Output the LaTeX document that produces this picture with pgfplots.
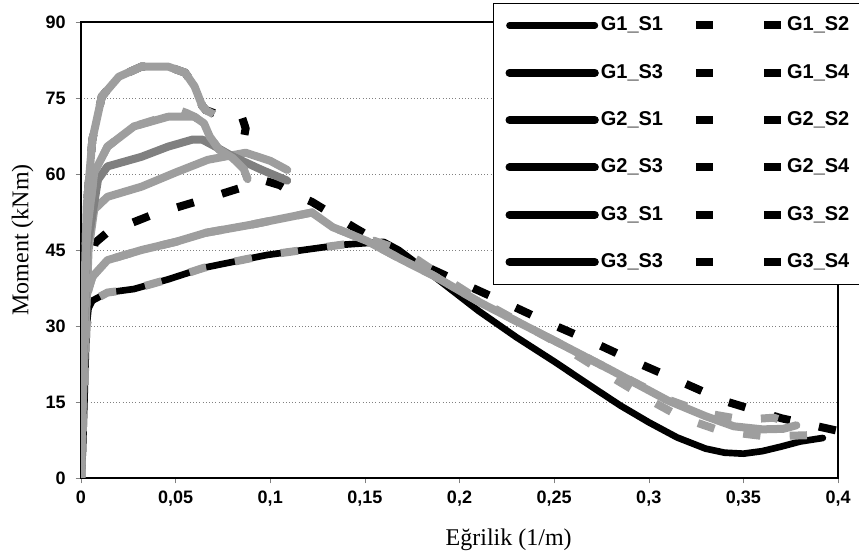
\documentclass[border=0pt]{standalone}
\usepackage{pgfplots}
\pgfplotsset{compat=1.18}
\usepackage{fontspec}
\setmainfont{Liberation Sans}
\newfontfamily\tnr{Liberation Serif}
\definecolor{lg}{RGB}{158,158,158}
\definecolor{dg}{RGB}{128,128,128}
\pgfplotsset{
  sol/.style={line width=#1, line join=round, line cap=round, legend image post style={black, line cap=round}},
  dsh/.style={line width=6pt, dash pattern=on 13pt off 22pt, legend image post style={black, dash pattern=on 12.75pt off 38.5pt}},
}
\begin{document}
\begin{tikzpicture}
\path[use as bounding box] (-60.75pt,-60.75pt) rectangle (583.5pt,358.5pt);
\begin{axis}[
  at={(0pt,0pt)}, anchor=south west,
  scale only axis, width=567.75pt, height=342pt,
  xmin=0, xmax=0.4, ymin=0, ymax=90,
  xtick={0,0.05,0.1,0.15,0.2,0.25,0.3,0.35,0.4},
  xticklabels={0,{0,05},{0,1},{0,15},{0,2},{0,25},{0,3},{0,35},{0,4}},
  ytick={0,15,30,45,60,75,90},
  tick pos=left, tick align=outside, major tick length=4pt,
  ymajorgrids, major grid style={dotted, gray, line width=0.7pt},
  axis line style={line width=0.9pt},
  /pgf/number format/assume math mode=true,
  ticklabel style={font=\bfseries\fontsize{13.5}{14}\selectfont},
  yticklabel style={xshift=-4pt},
  xticklabel style={yshift=-2pt},
  xlabel={Eğrilik (1/m)}, ylabel={Moment (kNm)},
  xlabel style={at={(axis description cs:0.565,-0.136)}, anchor=center, font=\tnr\fontsize{18}{18}\selectfont},
  ylabel style={at={(axis description cs:-0.077,0.522)}, anchor=center, font=\tnr\fontsize{18}{18}\selectfont},
  legend columns=2,
  legend image code/.code={\draw[#1] (0pt,0pt) -- (64pt,0pt);},
  legend style={at={(rel axis cs:0.5443,1.0417)}, anchor=north west, draw=black, line width=0.7pt,
    fill=white, inner xsep=9pt, inner ysep=8pt, row sep=18.5pt, column sep=0pt,
    font=\bfseries\fontsize{15}{15}\selectfont,
    nodes={inner sep=1.5pt, text height=11pt, text depth=3pt},
    /tikz/column 2/.style={column sep=20pt}},
  legend cell align=left,
]
% G1_S1 black solid
\addplot[black, sol=5pt] coordinates {(0,0) (0.001,5) (0.003,30) (0.004,33.5) (0.006,35) (0.014,36.6) (0.028,37.3) (0.046,39.2) (0.065,41.5) (0.098,44) (0.137,46) (0.16,46.6) (0.168,45) (0.19,38.8) (0.21,33) (0.23,27.8) (0.25,23) (0.27,18) (0.285,14.3) (0.3,11) (0.315,8) (0.33,5.8) (0.34,5) (0.35,4.8) (0.36,5.3) (0.37,6.2) (0.38,7.2) (0.392,7.9)};
\addlegendentry{G1\_S1}
% G1_S2 black dashed
\addplot[black, dsh] coordinates {(0,0) (0.003,40) (0.0074,46.4) (0.0137,48.4) (0.038,52) (0.065,55) (0.089,57.8) (0.097,58.7) (0.105,57.8) (0.114,55.8) (0.122,54.5) (0.145,49.3) (0.172,43.5) (0.2,38.7) (0.223,34.8) (0.246,30.8) (0.27,26.9) (0.293,22.9) (0.317,19) (0.34,15.2) (0.37,11.8) (0.4,9.3)};
\addlegendentry{G1\_S2}
% G1_S3 gray solid
\addplot[lg, sol=6pt] coordinates {(0,0) (0.001,20) (0.003,36) (0.006,39.7) (0.014,43) (0.032,45) (0.05,46.6) (0.066,48.4) (0.09,50) (0.11,51.5) (0.122,52.4) (0.133,49.5) (0.151,46.8) (0.17,43) (0.186,40) (0.211,34.6) (0.246,27.9) (0.28,21.3) (0.31,15.3) (0.33,12.2) (0.345,10.2) (0.36,9.6) (0.371,9.7) (0.378,10.4)};
\addlegendentry{G1\_S3}
% G1_S4 black dashed (mostly hidden)
\addplot[black, dsh] coordinates {(0,0) (0.001,25) (0.003,53.5) (0.006,66.8) (0.011,75.3) (0.02,79.2) (0.032,81.2) (0.046,81.2) (0.055,80) (0.06,77.3) (0.064,73.5) (0.066,72.6) (0.072,71.8) (0.08,71.7) (0.085,71.3) (0.087,69) (0.086,67)};
\addlegendentry{G1\_S4}
% G2_S1 gray solid
\addplot[lg, sol=6pt] coordinates {(0,0) (0.001,15) (0.004,45) (0.007,53) (0.014,55.5) (0.032,57.5) (0.05,60.3) (0.067,62.8) (0.087,64.2) (0.1,62.6) (0.109,60.8)};
\addlegendentry{G2\_S1}
% G2_S2 gray dashed
\addplot[lg, dsh] coordinates {(0,0) (0.003,30) (0.006,35) (0.014,36.6) (0.028,37.3) (0.046,39.2) (0.065,41.5) (0.098,44) (0.137,46) (0.155,46.8) (0.165,45.5) (0.178,43) (0.19,40) (0.211,35) (0.25,27) (0.28,20) (0.3,15.5) (0.317,12) (0.338,9.3) (0.362,8.2) (0.389,8.5)};
\addlegendentry{G2\_S2}
% G2_S3 darker gray solid
\addplot[dg, sol=6pt] coordinates {(0,0) (0.001,20) (0.003,45) (0.009,58.9) (0.014,61.5) (0.032,63.4) (0.046,65.4) (0.059,66.8) (0.064,66.8) (0.071,65.4) (0.08,63.5) (0.095,60.9) (0.109,58.7)};
\addlegendentry{G2\_S3}
% G2_S4 gray dashed
\addplot[lg, dsh] coordinates {(0,0) (0.001,20) (0.003,36) (0.006,39.7) (0.014,43) (0.032,45) (0.05,46.6) (0.066,48.4) (0.09,50) (0.11,51.5) (0.122,52.4) (0.133,49.5) (0.151,46.8) (0.17,43) (0.186,40) (0.211,34.6) (0.246,27.9) (0.28,21.3) (0.31,15.5) (0.33,12.8) (0.35,11.5) (0.366,11.9) (0.377,10.6)};
\addlegendentry{G2\_S4}
% G3_S1 gray solid
\addplot[lg, sol=6pt] coordinates {(0,0) (0.001,20) (0.003,48) (0.007,60.3) (0.014,65.4) (0.028,69.4) (0.046,71.3) (0.06,71.3) (0.065,70) (0.068,67.4) (0.073,64.8) (0.08,63.2) (0.086,61) (0.088,59)};
\addlegendentry{G3\_S1}
% G3_S2 gray dashed
\addplot[lg, dsh] coordinates {(0,0) (0.001,20) (0.003,48) (0.007,60.3) (0.014,65.4) (0.028,69.4) (0.046,71.5) (0.051,72.7) (0.056,72) (0.06,71.3) (0.065,70) (0.068,67.4) (0.073,64.8) (0.08,63.2) (0.086,61) (0.088,59)};
\addlegendentry{G3\_S2}
% G3_S3 gray solid top
\addplot[lg, sol=6pt] coordinates {(0,0) (0.001,25) (0.003,53.5) (0.006,66.8) (0.011,75.3) (0.02,79.2) (0.032,81.2) (0.046,81.2) (0.055,80) (0.06,77.3) (0.064,73.5) (0.066,72.6)};
\addlegendentry{G3\_S3}
% G3_S4 gray dashed
\addplot[lg, dsh] coordinates {(0,0) (0.001,25) (0.003,53.5) (0.006,66.8) (0.011,75.3) (0.02,79.2) (0.032,81.2) (0.046,81.2) (0.055,80) (0.06,77.3) (0.064,73.5) (0.066,72.6) (0.07,71.8) (0.075,70.5)};
\addlegendentry{G3\_S4}
\end{axis}
\end{tikzpicture}
\end{document}
